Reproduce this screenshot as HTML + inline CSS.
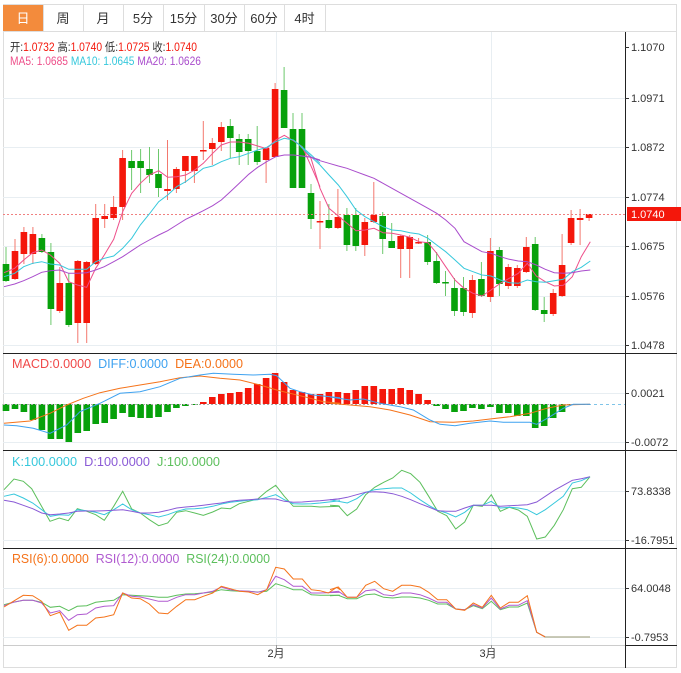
<!DOCTYPE html>
<html><head><meta charset="utf-8">
<style>
html,body{margin:0;padding:0;background:#fff;}
body{width:681px;height:673px;overflow:hidden;position:relative;font-family:"Liberation Sans","Noto Sans CJK SC",sans-serif;}
svg{position:absolute;left:0;top:0;}
</style></head>
<body>
<svg id="s" width="681" height="673" xmlns="http://www.w3.org/2000/svg" font-family="Liberation Sans, Noto Sans CJK SC, sans-serif"></svg>
<script>
var S=document.getElementById('s');var h='';
function L(x1,y1,x2,y2,c,w,d){h+='<line x1="'+x1+'" y1="'+y1+'" x2="'+x2+'" y2="'+y2+'" stroke="'+c+'" stroke-width="'+(w||1)+'"'+(d?' stroke-dasharray="'+d+'"':'')+'/>';}
function R(x,y,w,hh,c){h+='<rect x="'+x+'" y="'+y+'" width="'+w+'" height="'+hh+'" fill="'+c+'"/>';}
function T(x,y,t,c,sz,a){h+='<text x="'+x+'" y="'+y+'" fill="'+c+'" font-size="'+(sz||12)+'"'+(a?' text-anchor="'+a+'"':'')+'>'+t+'</text>';}
function P(pts,ox,oy,c){var s='';for(var i=0;i<pts.length;i+=2){s+=(ox+pts[i]/3).toFixed(1)+','+(oy+pts[i+1]/3).toFixed(1)+' ';}h+='<polyline points="'+s+'" fill="none" stroke="'+c+'" stroke-width="1"/>';}
R(3,4,674,664,'#fff');
h+='<rect x="3.5" y="4.5" width="673" height="663" fill="none" stroke="#ddd"/>';
var tabs=['日','周','月','5分','15分','30分','60分','4时'];var tb=[3,43,83,123,163,204,244,284,325];
R(3,5,40,26,'#f38b3c');
for(var i=0;i<8;i++){T((tb[i]+tb[i+1])/2,23,tabs[i],i==0?'#fff':'#333',13,'middle');L(tb[i+1]+.5,5,tb[i+1]+.5,31,'#ddd');}
L(3,31.5,677,31.5,'#ddd');
var gy=[47,98,147,197,246,296,345];
for(var i=1;i<gy.length;i++)L(3,gy[i]+.5,625,gy[i]+.5,'#e8eef2');
L(3,393.5,625,393.5,'#e8eef2');L(3,442.5,625,442.5,'#e8eef2');
L(3,491.5,625,491.5,'#e8eef2');L(3,540.5,625,540.5,'#e8eef2');
L(3,588.5,625,588.5,'#e8eef2');L(3,637.5,625,637.5,'#e8eef2');
L(276.5,32,276.5,645,'#e8eef2');L(491.5,32,491.5,645,'#e8eef2');
L(3,353.5,677,353.5,'#222');L(3,450.5,677,450.5,'#222');L(3,548.5,677,548.5,'#222');
L(3,645.5,625,645.5,'#ccc');L(625.5,32,625.5,668,'#222');L(625.5,645.5,677,645.5,'#222');
var al=[[47,'1.1070'],[98,'1.0971'],[147,'1.0872'],[197,'1.0774'],[246,'1.0675'],[296,'1.0576'],[345,'1.0478'],[393,'0.0021'],[442,'-0.0072'],[491,'73.8338'],[540,'-16.7951'],[588,'64.0048'],[637,'-0.7953']];
al.forEach(function(a){L(625,a[0]+.5,629,a[0]+.5,'#333');T(631,a[0]+4,a[1],'#333',11);});
T(276,657,'2月','#333',11,'middle');T(488,657,'3月','#333',11,'middle');
L(276.5,645,276.5,649,'#999');L(491.5,645,491.5,649,'#999');
var C=[['g',264,281,247,282],['r',251,279,239,280],['r',232,254,227,264],['r',234,254,227,264],['g',238,252,234,253],['g',252,309,243,325],['r',283,311,267,313],['g',283,325,273,327],['r',261,323,260,343],['r',262,323,261,343],
['r',218,264,204,265],['r',216,219,204,228],['r',207,218,196,220],['r',158,207,150,220],['g',161,168,150,190],['g',161,168,149,193],['g',169,175,147,183],['g',174,188,149,197],['r',189,191,140,200],['r',169,189,167,193],
['r',156,171,156,183],['r',156,171,156,183],['r',150,151,121,160],['r',143,149,138,165],['r',127,142,122,151],['g',126,138,119,158],['g',139,152,134,165],['g',139,151,134,165],['g',151,162,126,165],['r',148,160,148,183],
['r',89,157,83,157],['g',90,128,67,128],['g',129,188,113,188],['g',129,188,113,188],['g',193,219,184,229],['r',221,222,201,249],['g',220,228,204,229],['r',217,228,189,229],['g',215,245,208,251],['g',215,246,208,251],
['r',222,245,218,256],['r',215,222,182,223],['g',216,239,212,254],['g',241,248,223,248],['r',236,249,235,278],['r',237,249,235,278],['r',242,243,238,244],['g',242,262,235,265],['g',261,283,252,284],['g',282,283,271,296],
['g',288,311,278,316],['g',288,312,277,316],['r',280,313,275,318],['g',279,296,262,297],['r',251,297,238,302],['g',250,284,247,296],['r',267,286,264,289],['r',268,286,265,288],['r',247,272,237,273],['g',244,310,237,311],
['g',310,314,297,322],['r',293,314,289,316],['r',265,296,234,297],['r',218,243,210,245],['r',218,220,209,245],['r',214,218,214,221]];
C.forEach(function(c,i){var x=6+8.97*i;var col=c[0]=='r'?'#f4170b':'#07a10b';var wc=c[0]=='r'?'#f3786e':'#6cc86c';
L(x.toFixed(1),c[3],x.toFixed(1),c[4],wc);var bh=Math.max(c[2]-c[1],1.5);R((x-3.3).toFixed(1),c[1],6.6,bh,col);});
L(3,214.5,625,214.5,'#f08080',1,'2,2');
R(627,207,54,14,'#f4170b');T(631,218,'1.0740','#fff',11);
P([12,638,44,625,71,600,98,578,125,570,151,585,179,610,206,665,232,675,260,682,287,625,313,585,341,538,368,455,395,400,421,370,448,345,476,332,503,352,530,350,557,345,584,330,610,310,638,280,664,255,691,246,718,246,746,250,773,258,800,266,827,240,853,226,880,242,907,260,934,320,960,380],0,60,'#ee4f8a');
P([0,257,33,295,60,385,87,445,115,468,141,490,168,512,195,510,222,505,249,518,276,520,303,525,330,532,357,545,384,548,410,580,437,620,465,660,492,685,519,700,546,708,573,690,601,670,628,655,655,640,682,610,709,648,736,665,763,678,790,676,817,650,844,590,871,545],300,60,'#ee4f8a');
P([12,650,44,640,71,620,98,610,125,605,151,612,179,615,206,628,232,628,260,628,287,605,313,595,341,588,368,565,395,535,421,495,448,462,476,425,503,405,530,380,557,365,584,345,610,325,638,318,664,305,691,295,718,290,746,280,773,270,800,262,827,245,853,235,880,240,907,262,934,285,960,310],0,60,'#36c8dc');
P([0,257,33,290,60,315,87,345,115,375,141,410,168,450,195,470,222,485,249,500,276,510,303,512,330,518,357,522,384,535,410,555,437,575,465,600,492,625,519,635,546,645,573,648,601,660,628,668,655,670,682,660,709,665,736,667,763,662,790,658,817,635,844,622,871,603],300,60,'#36c8dc');
P([12,680,44,672,71,662,98,650,125,637,151,632,179,630,206,640,232,640,260,638,287,630,313,620,341,605,368,590,395,572,421,555,448,540,476,525,503,512,530,495,557,478,584,465,610,452,638,437,664,420,691,395,718,370,746,343,773,322,800,305,827,290,853,285,880,285,907,288,934,292,960,300],0,60,'#a94ccc');
P([0,287,33,292,60,302,87,310,115,318,141,325,168,335,195,345,222,355,249,370,276,385,303,400,330,415,357,430,384,445,410,460,437,480,465,505,492,545,519,560,546,575,573,580,601,590,628,598,655,603,682,605,709,615,736,628,763,638,790,640,817,638,844,633,871,630],300,60,'#a94ccc');
var M=[411,409,412,420,430,439,439,442,433,431,424,423,419,413,417,418,418,417,412,408,406,405,402,397,394,393,392,388,384,378,373,382,390,392,394,394,392,392,393,390,386,386,389,389,388,390,394,400,406,409,412,411,408,409,407,413,413,416,416,428,426,418,412,405];
var z=404;M.forEach(function(v,i){var x=6+8.97*i-3.3;if(v>z)R(x.toFixed(1),z,6.6,v-z,'#07a10b');else R(x.toFixed(1),v,6.6,z-v,'#f4170b');});
L(3,404.5,590,404.5,'#aaa',1,'2,2');L(570,404.5,625,404.5,'#7fc4e8',1,'3,3');
P([12,235,90,228,150,205,200,180,250,160,300,143,360,130,420,120,480,110,540,98,600,93,660,100,720,105,780,120,830,135,870,145,920,157,970,170,1020,175],0,345,'#f5731a');
P([0,175,60,180,120,185,180,195,240,210,300,230,370,232,430,228,480,222,540,215,600,205,650,190,700,180,780,178],330,345,'#f5731a');
P([12,240,50,242,100,250,150,265,200,240,240,200,300,175,360,145,420,140,480,125,540,100,600,90,640,85,700,88,760,90,810,88,830,92,870,130,900,140,940,150,1020,158],0,345,'#3ea2f0');
P([0,156,60,165,100,162,150,175,210,185,250,195,300,225,330,238,375,242,420,235,480,228,520,232,600,232,620,238,660,215,700,190,730,178,780,178],330,345,'#3ea2f0');
P([12,125,42,93,70,100,95,122,122,170,150,220,178,210,205,218,232,182,260,190,287,200,313,217,341,175,368,130,395,183,421,195,448,215,476,233,503,225,530,193,557,188,584,195,610,202,638,192,664,180,691,182,718,167,746,160,773,153,800,130,827,112,853,145,880,175,907,175,934,175,960,177,1020,175],0,448,'#5cbf5c');
P([0,172,25,173,52,203,80,183,107,140,134,118,161,103,188,90,215,67,242,77,270,103,296,145,323,190,350,203,377,243,404,222,430,172,457,175,484,140,511,190,538,178,565,186,592,205,620,273,646,267,673,232,700,185,727,122,754,118,780,86],330,448,'#5cbf5c');
P([12,145,42,138,70,150,98,165,125,185,151,205,179,200,206,202,232,185,260,188,287,193,313,200,341,185,368,168,395,185,421,195,448,200,476,207,503,200,530,190,557,183,584,182,610,180,638,175,664,168,691,163,718,160,746,157,773,155,800,148,827,140,853,155,880,167,907,168,934,167,960,165,1020,158],0,448,'#36c8dc');
P([0,155,52,165,80,152,107,133,134,125,161,122,188,120,215,120,242,135,270,155,296,172,323,187,350,195,377,207,404,193,430,172,457,172,484,160,511,180,538,178,565,180,592,185,620,200,646,185,673,165,700,145,727,105,754,98,780,86],330,448,'#36c8dc');
P([12,157,42,162,70,172,98,182,125,195,151,200,179,198,206,195,232,190,260,189,287,189,313,188,341,187,368,185,395,190,421,195,448,195,476,193,503,187,530,180,557,177,584,175,610,172,638,168,664,165,691,160,718,157,746,155,773,153,800,152,827,153,853,160,880,163,907,162,934,160,960,158,1020,152],0,448,'#8a5ad6');
P([0,155,25,153,52,148,80,140,107,133,134,131,161,133,188,137,215,145,242,155,270,167,296,177,323,188,350,190,377,190,404,180,430,172,457,172,484,172,511,175,538,173,565,172,592,170,620,162,646,145,673,127,700,112,727,97,754,92,780,86],330,448,'#8a5ad6');
P([12,185,40,178,70,172,98,172,125,178,151,193,179,190,206,203,232,190,260,188,287,178,313,175,341,172,368,155,395,157,421,158,448,160,476,163,503,163,530,157,557,153,584,152,610,150,638,147,664,140,691,143,718,145,746,145,773,147,800,145,827,122,853,130,880,140,907,140,934,155,960,157,1020,157],0,543,'#5cbf5c');
P([0,158,25,157,52,167,80,167,107,155,134,153,161,163,188,165,215,162,242,162,270,165,296,172,323,183,350,183,377,198,404,200,430,188,457,197,484,175,511,200,538,192,565,192,592,180,620,268,646,282],330,543,'#5cbf5c');
P([12,188,40,178,70,172,98,172,125,180,151,210,179,203,206,232,232,215,260,213,287,195,313,190,341,188,368,150,395,160,421,162,448,168,476,175,503,175,530,163,557,155,584,155,610,150,638,145,664,132,691,140,718,143,746,145,773,148,800,140,827,100,853,110,880,130,907,130,934,150,960,150,1020,148],0,543,'#b05ad0');
P([0,148,25,145,52,163,80,163,107,143,134,140,161,155,188,158,215,150,242,150,270,155,296,165,323,178,350,178,377,198,404,200,430,185,457,195,484,165,511,198,538,187,565,187,592,173,620,268,646,282],330,543,'#b05ad0');
P([12,192,40,175,70,157,98,158,125,175,151,218,179,208,206,262,232,247,260,247,287,225,313,222,341,215,368,150,395,165,421,167,448,183,476,210,503,212,530,190,557,170,584,170,610,160,638,150,664,130,691,137,718,145,746,147,773,155,800,140,827,73,853,78,880,108,907,108,934,140,960,143,985,150,1010,133,1020,140],0,543,'#f5731a');
P([0,140,25,132,52,163,80,163,107,127,134,115,161,137,188,145,215,127,242,127,270,132,296,148,323,170,350,170,377,198,404,202,430,180,457,193,484,157,511,195,538,178,565,178,592,158,620,268,646,282],330,543,'#f5731a');
L(545,637,590,637,'#b8b8a0',1.5);
var LA=' lengthAdjust="spacingAndGlyphs" xml:space="preserve"';
h+='<text x="10" y="51" font-size="11.5" fill="#333" textLength="187"'+LA+'>开:<tspan fill="#f4170b">1.0732</tspan> 高:<tspan fill="#f4170b">1.0740</tspan> 低:<tspan fill="#f4170b">1.0725</tspan> 收:<tspan fill="#f4170b">1.0740</tspan></text>';
h+='<text x="10" y="65" font-size="11.5" textLength="191"'+LA+'><tspan fill="#ee4f8a">MA5: 1.0685</tspan> <tspan fill="#36c8dc">MA10: 1.0645</tspan> <tspan fill="#a94ccc">MA20: 1.0626</tspan></text>';
h+='<text x="12" y="368" font-size="12.5" textLength="231"'+LA+'><tspan fill="#f04848">MACD:0.0000</tspan>  <tspan fill="#3ea2f0">DIFF:0.0000</tspan>  <tspan fill="#f5731a">DEA:0.0000</tspan></text>';
h+='<text x="12" y="466" font-size="12.5" textLength="208"'+LA+'><tspan fill="#36c8dc">K:100.0000</tspan>  <tspan fill="#8a5ad6">D:100.0000</tspan>  <tspan fill="#5cbf5c">J:100.0000</tspan></text>';
h+='<text x="12" y="563" font-size="12.5" textLength="258"'+LA+'><tspan fill="#f5731a">RSI(6):0.0000</tspan>  <tspan fill="#b05ad0">RSI(12):0.0000</tspan>  <tspan fill="#5cbf5c">RSI(24):0.0000</tspan></text>';
S.innerHTML=h;
</script>
</body></html>
